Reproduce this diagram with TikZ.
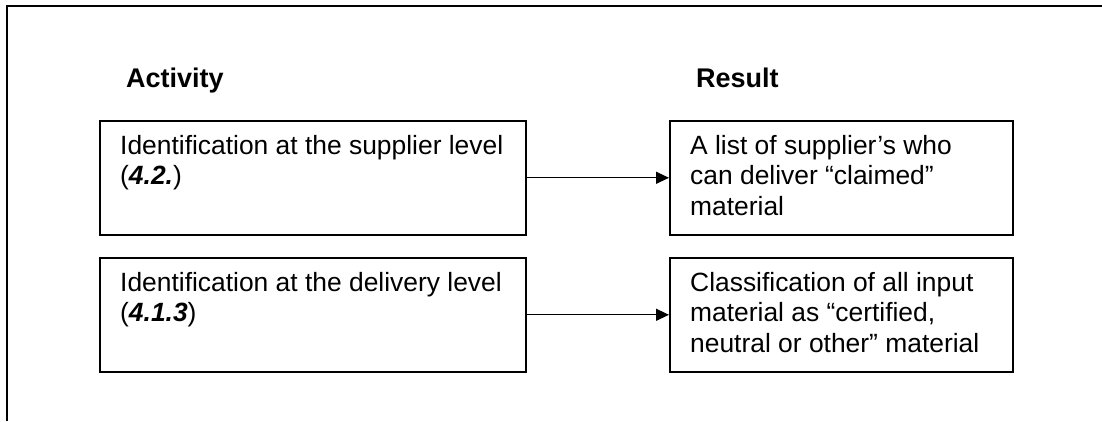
\documentclass[tikz,border=0pt]{standalone}
\usepackage{fontspec}
\setmainfont{Liberation Sans}
\usetikzlibrary{arrows.meta,calc}
\begin{document}
\begin{tikzpicture}[x=1pt,y=-1pt,
  boxnode/.style={draw, line width=1.6pt, rectangle, inner sep=0pt, anchor=north west},
  txt/.style={anchor=north west, inner sep=0pt, align=left, font=\fontsize{26.4}{30.5}\selectfont},
  head/.style={anchor=base west, inner sep=0pt, font=\fontsize{27}{30}\selectfont\bfseries},
  frame/.style={line width=1.8pt},
  arr/.style={line width=1.3pt, -{Triangle[length=13pt,width=12pt]}}]
\useasboundingbox (0,0) rectangle (1102,421);
% outer frame (open on right and bottom)
\coordinate (fbl) at (7,421);
\coordinate (ftl) at (7,6);
\coordinate (ftr) at (1102,6);
\draw[frame] (fbl) -- (ftl) -- (ftr);
% headings
\node[head] (hact) at (126,87) {Activity};
\node[head] (hres) at (696,87) {Result};
% boxes
\node[boxnode, minimum width=426pt, minimum height=114pt] (b1) at (99,120) {};
\node[boxnode, minimum width=426pt, minimum height=114pt] (b2) at (99,257) {};
\node[boxnode, minimum width=343pt, minimum height=114pt] (r1) at (669,120) {};
\node[boxnode, minimum width=343pt, minimum height=114pt] (r2) at (669,257) {};
% texts
\node[txt] (t1) at ($(b1.north west)+(21,15)$) {Identification at the supplier level\\(\textbf{\textit{4.2.}})};
\node[txt] (t2) at ($(b2.north west)+(21,15)$) {Identification at the delivery level\\(\textbf{\textit{4.1.3}})};
\node[txt] (t3) at ($(r1.north west)+(21,15)$) {A list of supplier’s who\\can deliver “claimed”\\material};
\node[txt] (t4) at ($(r2.north west)+(21,15)$) {Classification of all input\\material as “certified,\\neutral or other” material};
% arrows
\draw[arr] (b1.east) -- (r1.west);
\draw[arr] (b2.east) -- (r2.west);
\end{tikzpicture}
\end{document}
